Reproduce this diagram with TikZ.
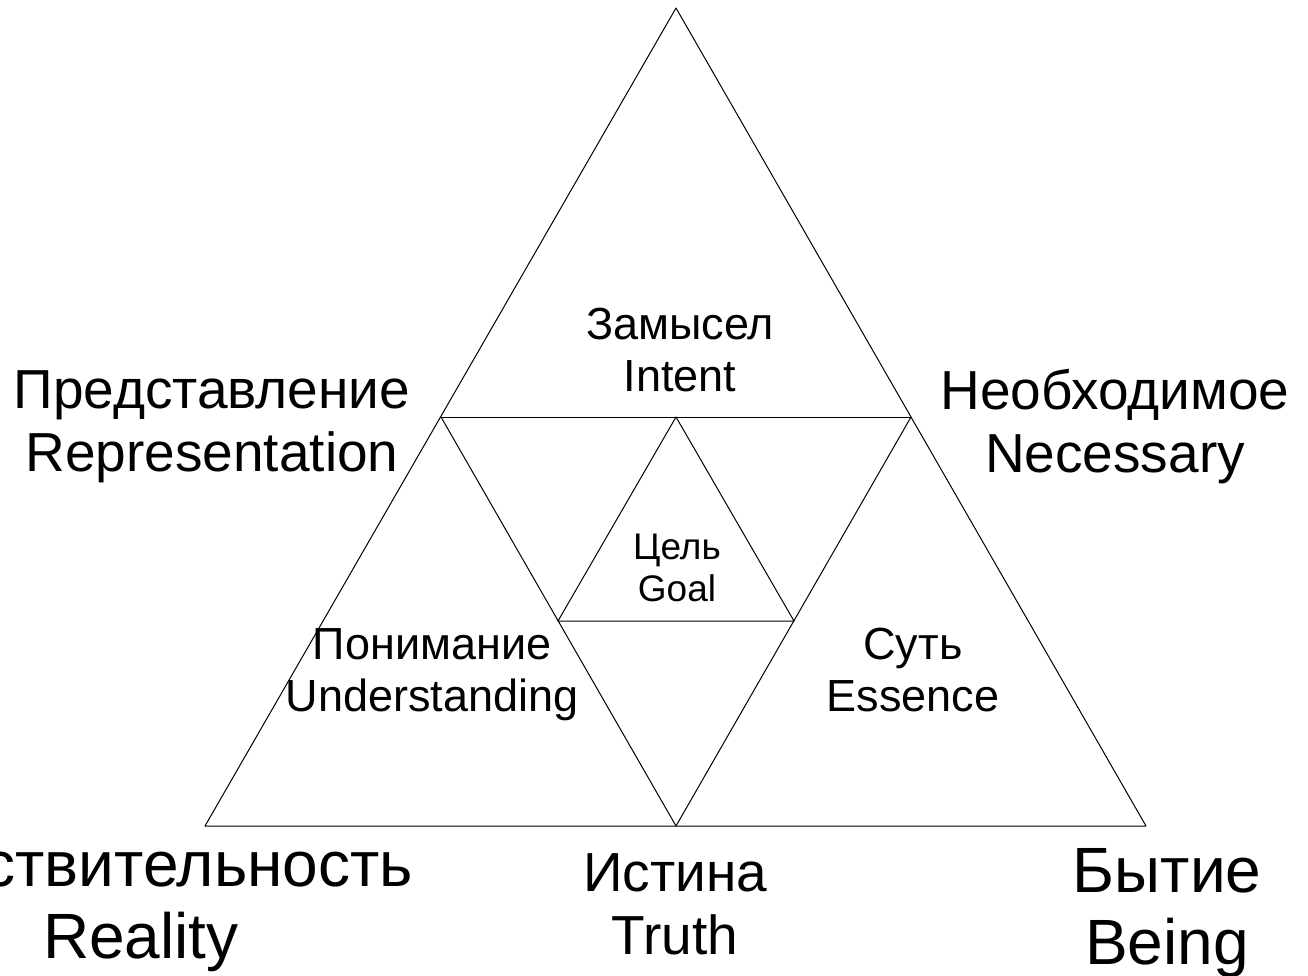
\documentclass[tikz,border=0pt]{standalone}
\usepackage{fontspec}
\setmainfont{Liberation Sans}
\usetikzlibrary{positioning}
\tikzset{
  edge/.style={black, line width=1pt, line join=round},
  lbl/.style 2 args={align=center, inner sep=0pt, font=\fontsize{#1}{#2}\selectfont}
}

\begin{document}
\begin{tikzpicture}[x=1pt, y=-1pt]
\useasboundingbox (0,0) rectangle (1308,976);
% corners and midpoints
\coordinate (top) at (676,8);
\coordinate (bl) at (205,826);
\coordinate (br) at (1146,826);
\coordinate (ml) at (441,417);
\coordinate (mr) at (911,417);
\coordinate (mb) at (676,826);
\coordinate (it) at (676,417);
\coordinate (il) at (558,621);
\coordinate (ir) at (794,621);

\draw[edge] (top) -- (bl) -- (br) -- cycle;
\draw[edge] (ml) -- (mr);
\draw[edge] (ml) -- (mb) -- (mr);
\draw[edge] (it) -- (il) -- (ir) -- cycle;

\foreach \nm/\ru/\en/\px/\py/\fs/\bs in {%
    intent/Замысел/Intent/680/350/45/52,
    repr/Представление/Representation/212/427/55/63,
    necess/Необходимое/Necessary/1115/427/55/63,
    goal/Цель/Goal/677/568/37/42,
    underst/Понимание/Understanding/432/675/45/52,
    essence/Суть/Essence/913/670/45/52,
    reality/Действительность/Reality/141/905/64/72,
    truth/Истина/Truth/675/904/55/63,
    being/Бытие/Being/1167/913/64/72}
{
    \node[lbl={\fs}{\bs}] (\nm) at (\px,\py) {\ru\\\en};
}
\end{tikzpicture}
\end{document}
